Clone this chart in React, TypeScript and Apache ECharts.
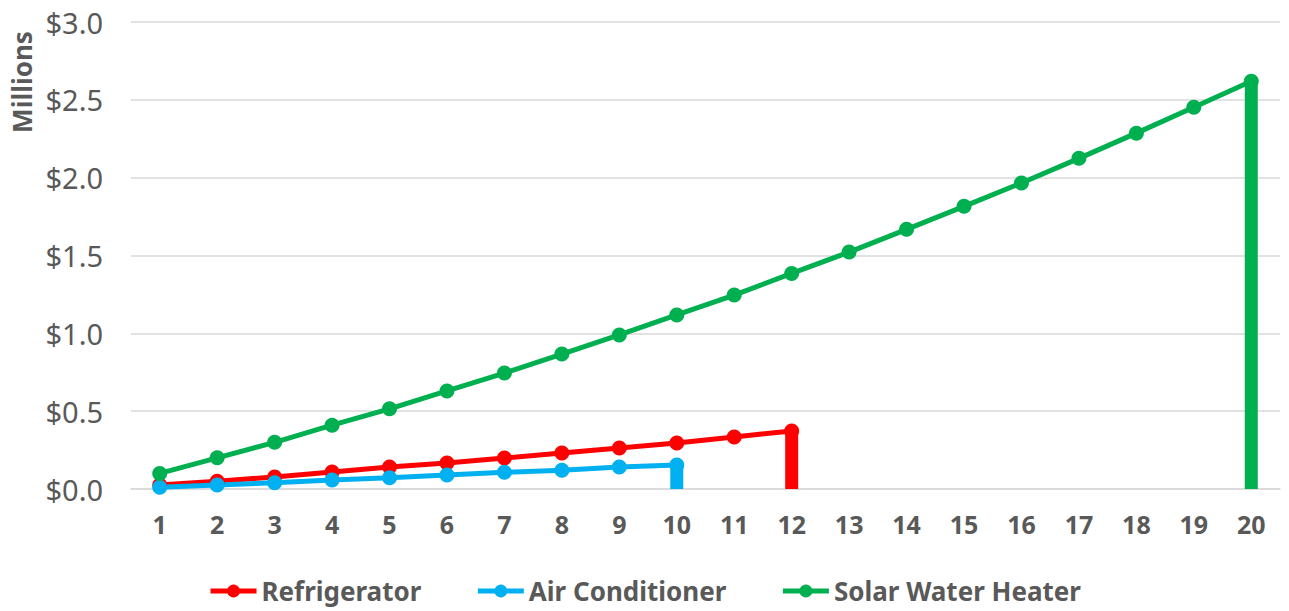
import React, { useEffect, useRef } from "react";
import * as echarts from "echarts";

const years = ["1","2","3","4","5","6","7","8","9","10","11","12","13","14","15","16","17","18","19","20"];
const refrigerator = [0.026, 0.05, 0.077, 0.109, 0.141, 0.167, 0.199, 0.231, 0.263, 0.295, 0.334, 0.373];
const airConditioner = [0.012, 0.026, 0.04, 0.058, 0.072, 0.09, 0.107, 0.121, 0.141, 0.154];
const solarWaterHeater = [0.1, 0.2, 0.3, 0.41, 0.515, 0.63, 0.745, 0.867, 0.99, 1.118, 1.246, 1.385, 1.522, 1.668, 1.816, 1.966, 2.124, 2.286, 2.452, 2.62];
const yTicks = { min: 0, max: 3, interval: 0.5 };

const seriesDefs = [
  { name: "Refrigerator", color: "#FF0000", data: refrigerator },
  { name: "Air Conditioner", color: "#00B0F0", data: airConditioner },
  { name: "Solar Water Heater", color: "#00B050", data: solarWaterHeater },
];

const FONT = "'Noto Sans', sans-serif";

export default function App() {
  const ref = useRef<HTMLDivElement>(null);
  useEffect(() => {
    document.body.style.margin = "0";
    const chart = echarts.init(ref.current!, null, { renderer: "svg" });
    const lineSeries = seriesDefs.map((s) => ({
      name: s.name,
      type: "line",
      data: s.data,
      symbol: "circle",
      symbolSize: 15,
      z: 3,
      itemStyle: { color: s.color },
      lineStyle: { color: s.color, width: 5 },
    }));
    const dropSeries = seriesDefs.map((s) => ({
      name: s.name + " drop",
      type: "bar",
      barWidth: 13,
      barGap: "-100%",
      z: 2,
      data: s.data.map((v, i) => (i === s.data.length - 1 ? v : "-")),
      itemStyle: { color: s.color },
    }));
    chart.setOption({
      animation: false,
      textStyle: { fontFamily: FONT },
      grid: { left: 131, right: 9, top: 22, bottom: 122 },
      legend: {
        data: seriesDefs.map((s) => s.name),
        left: "center",
        bottom: 2,
        itemWidth: 46,
        itemHeight: 16,
        itemGap: 54,
        lineStyle: { width: 5 },
        textStyle: { fontFamily: FONT, fontSize: 26, fontWeight: "bold", color: "#595959" },
      },
      graphic: [
        {
          type: "text",
          x: 22,
          y: 82,
          rotation: Math.PI / 2,
          style: {
            text: "Millions",
            fontFamily: FONT,
            fontSize: 26,
            fontWeight: "bold",
            fill: "#595959",
            align: "center",
            verticalAlign: "middle",
          },
        },
      ],
      xAxis: {
        type: "category",
        data: years,
        boundaryGap: true,
        axisLine: { lineStyle: { color: "#D9D9D9", width: 1.5 } },
        axisTick: { show: false },
        axisLabel: { margin: 22, fontFamily: FONT, fontSize: 25, fontWeight: "bold", color: "#595959" },
      },
      yAxis: {
        type: "value",
        min: yTicks.min,
        max: yTicks.max,
        interval: yTicks.interval,
        axisLine: { show: false },
        axisTick: { show: false },
        splitLine: { lineStyle: { color: "#D9D9D9", width: 1.5 } },
        axisLabel: {
          margin: 28,
          fontFamily: FONT,
          fontSize: 29,
          color: "#595959",
          formatter: (v: number) => "$" + v.toFixed(1),
        },
      },
      series: [...dropSeries, ...lineSeries],
    });
    return () => chart.dispose();
  }, []);
  return <div ref={ref} style={{ width: 1289, height: 611 }} />;
}
